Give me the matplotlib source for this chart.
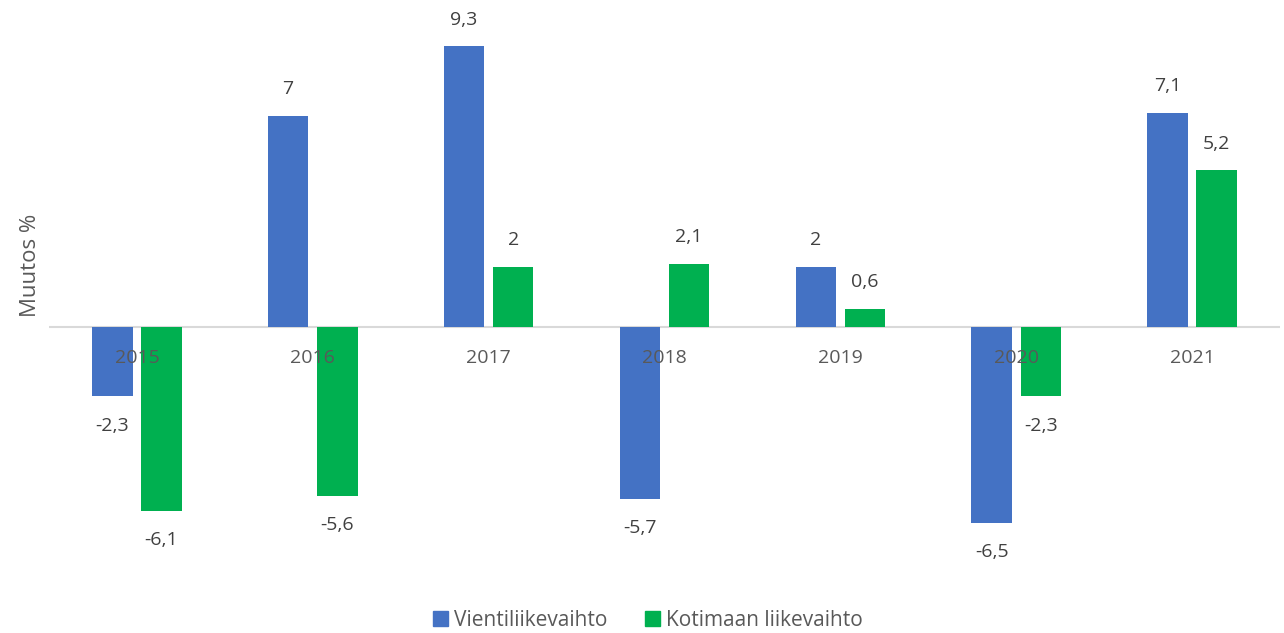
import matplotlib
matplotlib.use("Agg")
import matplotlib.pyplot as plt
import numpy as np
from matplotlib.patches import Patch

years = ["2015", "2016", "2017", "2018", "2019", "2020", "2021"]
vienti = [-2.3, 7.0, 9.3, -5.7, 2.0, -6.5, 7.1]
kotimaa = [-6.1, -5.6, 2.0, 2.1, 0.6, -2.3, 5.2]
series_names = ["Vientiliikevaihto", "Kotimaan liikevaihto"]
colors = ["#4472C4", "#00B050"]

plt.rcParams['font.family'] = ['Open Sans', 'DejaVu Sans']

fig = plt.figure(figsize=(12.84, 6.33), dpi=100)
ax = fig.add_axes([49/1284, (633-568.6)/633, (1280-49)/1284, (568.6-25)/633])
x = np.arange(len(years))
w = 0.23
off = 0.14

def fmt(v):
    return f"{v:g}".replace(".", ",")

for vals, dx, c in [(vienti, -off, colors[0]), (kotimaa, off, colors[1])]:
    ax.bar(x + dx, vals, width=w, color=c, zorder=2)
    for xi, v in zip(x + dx, vals):
        ax.annotate(fmt(v), (xi, v), xytext=(0, 19 if v >= 0 else -21),
                    textcoords="offset points", ha="center", va="center",
                    fontsize=14, color="#404040", zorder=4)

ax.axhline(0, color="#D9D9D9", lw=1.5, zorder=1)
for xi, y in zip(x, years):
    ax.annotate(y, (xi, 0), xytext=(0, -22), textcoords="offset points",
                ha="center", va="center", fontsize=14, color="#595959", zorder=3)

ax.set_xlim(-0.5, len(years) - 0.5)
ax.set_ylim(-8, 10)
ax.set_xticks([])
ax.set_yticks([])
for s in ax.spines.values():
    s.set_visible(False)

fig.text(30/1284, 1 - 265/633, "Muutos %", rotation=90, ha="center", va="center",
         fontsize=16, color="#595959")

handles = [Patch(color=c, label=n) for c, n in zip(colors, series_names)]
fig.legend(handles=handles, loc="center", bbox_to_anchor=(648/1284, 1 - 620/633),
           ncol=2, frameon=False, fontsize=15, handlelength=0.7, handleheight=0.7,
           handletextpad=0.3, columnspacing=1.8, labelcolor="#595959")

fig.savefig("out.png", dpi=100)
